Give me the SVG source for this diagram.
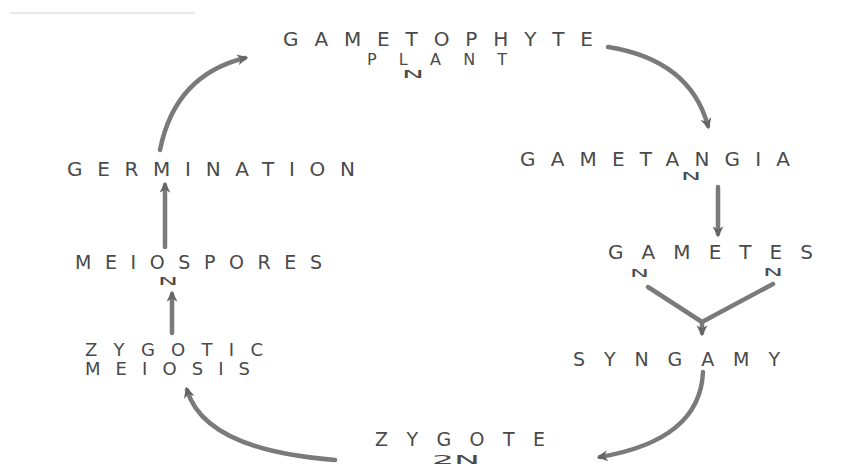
<svg xmlns="http://www.w3.org/2000/svg" width="849" height="466" viewBox="0 0 849 466">
<defs>
<style>
.t{font-family:"DejaVu Sans","Liberation Sans",Arial,sans-serif;fill:#4a4a4a;}
.c{fill:none;stroke:#7a7a7a;stroke-width:4.5;stroke-linecap:round;}
</style>
<marker id="ah" viewBox="0 0 10 10" refX="7" refY="5" markerWidth="11" markerHeight="11" markerUnits="userSpaceOnUse" orient="auto">
<path d="M0,0 L10,5 L0,10 L3,5 z" fill="#666666"/>
</marker>
</defs>
<rect width="849" height="466" fill="#ffffff"/>
<line x1="10" y1="13" x2="195" y2="13" stroke="#d0d0d0" stroke-width="1"/>

<g id="connectors">
<path class="c" d="M335,460 Q205,450 187,390" marker-end="url(#ah)"/>
<path class="c" d="M172,333 L172,294" marker-end="url(#ah)"/>
<path class="c" d="M165,247 L165,185" marker-end="url(#ah)"/>
<path class="c" d="M160,150 Q175,75 245,58" marker-end="url(#ah)"/>
<path class="c" d="M608,47 Q690,60 708,126" marker-end="url(#ah)"/>
<path class="c" d="M718,187 L718,234" marker-end="url(#ah)"/>
<path class="c" d="M648,287 L702,322"/>
<path class="c" d="M773,284 L702,322"/>
<path class="c" d="M702,322 L702,333" marker-end="url(#ah)"/>
<path class="c" d="M703,372 Q700,440 600,457" marker-end="url(#ah)"/>
</g>

<g id="gametophyte">
<text class="t" x="283" y="46" font-size="20" textLength="310" lengthAdjust="spacing">GAMETOPHYTE</text>
<text class="t" x="367" y="65" font-size="16" textLength="140" lengthAdjust="spacing">PLANT</text>
<text class="t" x="402" y="78" font-size="11" textLength="22" lengthAdjust="spacingAndGlyphs">N</text>
</g>
<g id="gametangia">
<text class="t" x="520" y="166" font-size="20" textLength="270" lengthAdjust="spacing">GAMETANGIA</text>
<text class="t" x="681" y="180" font-size="11" textLength="20" lengthAdjust="spacingAndGlyphs">N</text>
</g>
<g id="gametes">
<text class="t" x="608" y="259" font-size="20" textLength="205" lengthAdjust="spacing">GAMETES</text>
<text class="t" x="630" y="277" font-size="11" textLength="19" lengthAdjust="spacingAndGlyphs">N</text>
<text class="t" x="763" y="276" font-size="11" textLength="20" lengthAdjust="spacingAndGlyphs">N</text>
</g>
<g id="syngamy">
<text class="t" x="573" y="366" font-size="19" textLength="207" lengthAdjust="spacing">SYNGAMY</text>
</g>
<g id="zygote">
<text class="t" x="375" y="446" font-size="19" textLength="170" lengthAdjust="spacing">ZYGOTE</text>
<text class="t" x="432" y="464" font-size="13" textLength="48" lengthAdjust="spacingAndGlyphs">2N</text>
</g>
<g id="zygotic-meiosis">
<text class="t" x="85" y="356" font-size="18" textLength="178" lengthAdjust="spacing">ZYGOTIC</text>
<text class="t" x="85" y="375" font-size="18" textLength="165" lengthAdjust="spacing">MEIOSIS</text>
</g>
<g id="meiospores">
<text class="t" x="75" y="269" font-size="19" textLength="247" lengthAdjust="spacing">MEIOSPORES</text>
<text class="t" x="158" y="285" font-size="11" textLength="20" lengthAdjust="spacingAndGlyphs">N</text>
</g>
<g id="germination">
<text class="t" x="67" y="176" font-size="20" textLength="288" lengthAdjust="spacing">GERMINATION</text>
</g>
</svg>
